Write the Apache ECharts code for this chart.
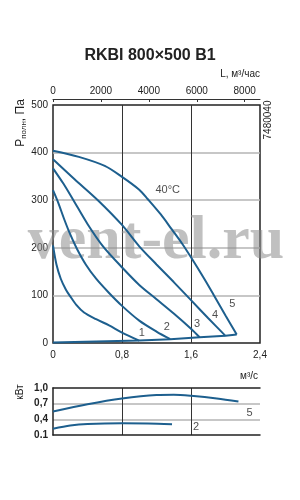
<!DOCTYPE html>
<html>
<head>
<meta charset="utf-8">
<script src="https://cdn.jsdelivr.net/npm/echarts@6/dist/echarts.min.js"></script>
<style>
html, body { margin: 0; padding: 0; background: #fff; }
#chart { width: 300px; height: 500px; }
</style>
</head>
<body>
<div id="chart"></div>
<script>
// pressure curves, x = m3/s, y = Pa
const curve1 = [[0, 205], [0.04, 165], [0.09, 135], [0.15, 112], [0.2, 98], [0.27, 80], [0.36, 64], [0.5, 50], [0.65, 37], [0.8, 22], [1.0, 5]];
const curve2 = [[0, 321], [0.06, 295], [0.13, 260], [0.2, 228], [0.28, 197], [0.38, 165], [0.5, 135], [0.65, 105], [0.8, 78], [1.0, 47], [1.2, 24], [1.36, 8]];
const curve3 = [[0, 367], [0.12, 335], [0.23, 302], [0.4, 250], [0.58, 203], [0.81, 157], [1.0, 122], [1.2, 92], [1.4, 62], [1.6, 30], [1.7, 12]];
const curve4 = [[0, 386], [0.25, 344], [0.52, 300], [0.8, 248], [1.0, 203], [1.2, 165], [1.4, 128], [1.6, 90], [1.8, 52], [2.0, 15]];
const curve5 = [[0, 404], [0.3, 391], [0.6, 372], [0.8, 349], [1.0, 322], [1.1, 302], [1.25, 270], [1.38, 238], [1.5, 208], [1.6, 180], [1.75, 136], [1.86, 102], [2.0, 58], [2.13, 18]];
const baseLine = [[0, 1], [1.0, 5], [1.36, 8], [1.7, 12], [2.0, 15], [2.13, 18]];

// power curves, kW
const power5 = [[0, 0.55], [0.4, 0.69], [0.8, 0.8], [1.2, 0.865], [1.4, 0.87], [1.6, 0.85], [1.9, 0.8], [2.15, 0.74]];
const power2 = [[0, 0.22], [0.2, 0.28], [0.4, 0.31], [0.8, 0.325], [1.1, 0.32], [1.38, 0.305]];

const curveLabels = [['1', 1.03, 21], ['2', 1.32, 34], ['3', 1.67, 40], ['4', 1.88, 59], ['5', 2.08, 82], ['40°C', 1.33, 321]];
const powerLabels = [['5', 2.28, 0.52], ['2', 1.66, 0.25]];
const powerTicks = ['0.1', '0,4', '0,7', '1,0'];
const powerMin = 0.1;

const blue = '#1d5f8e';
const dark = '#222';
const font = 'Liberation Sans';

const chart = echarts.init(document.getElementById('chart'), null, { renderer: 'canvas' });

function curve(data) {
    return {
        type: 'line', data: data, xAxisIndex: 0, yAxisIndex: 0,
        smooth: 0.3, symbol: 'none', silent: true,
        lineStyle: { color: blue, width: 2 }, z: 3
    };
}
function powerCurve(data) {
    return {
        type: 'line', data: data.map(p => [p[0], p[1] - powerMin]), xAxisIndex: 2, yAxisIndex: 1,
        smooth: 0.3, symbol: 'none', silent: true,
        lineStyle: { color: blue, width: 2 }, z: 3
    };
}
function labels(list, xi, yi, shift) {
    return {
        type: 'scatter', xAxisIndex: xi, yAxisIndex: yi, symbolSize: 0, silent: true,
        data: list.map(l => ({ value: [l[1], l[2] - shift], name: l[0] })),
        label: { show: true, position: 'inside', formatter: '{b}', color: dark, fontSize: 11, fontFamily: font }
    };
}

const option = {
    backgroundColor: '#fff',
    animation: false,
    grid: [
        { left: 53, top: 105, width: 207, height: 238, show: true, borderColor: dark, borderWidth: 1.5 },
        { left: 53, top: 388, width: 207, height: 47 }
    ],
    xAxis: [
        {
            gridIndex: 0, type: 'value', min: 0, max: 2.4, interval: 0.8,
            axisLine: { show: false }, axisTick: { show: false },
            axisLabel: { margin: 7, fontSize: 10, color: dark, fontFamily: font,
                formatter: v => v === 0 ? '0' : v.toFixed(1).replace('.', ',') },
            splitLine: { show: true, showMinLine: false, showMaxLine: false, lineStyle: { color: '#333', width: 1 } }
        },
        {
            gridIndex: 0, type: 'value', position: 'top', offset: 6, min: 0, max: 8640, interval: 2000,
            axisLine: { show: true, lineStyle: { color: '#333', width: 1 } },
            axisTick: { show: true, inside: true, length: 3, lineStyle: { color: '#333' } },
            axisLabel: { margin: 3, fontSize: 10, color: dark, fontFamily: font, showMaxLabel: false,
                formatter: v => String(v) },
            splitLine: { show: false }
        },
        {
            gridIndex: 1, type: 'value', min: 0, max: 2.4, interval: 0.8,
            axisLine: { show: true, lineStyle: { color: dark, width: 1.5 } },
            axisTick: { show: false }, axisLabel: { show: false },
            splitLine: { show: true, showMinLine: false, showMaxLine: false, lineStyle: { color: '#333', width: 1 } }
        },
        {
            gridIndex: 1, type: 'value', position: 'top', min: 0, max: 2.4,
            axisLine: { show: true, lineStyle: { color: dark, width: 1.5 } },
            axisTick: { show: false }, axisLabel: { show: false }, splitLine: { show: false }
        }
    ],
    yAxis: [
        {
            gridIndex: 0, type: 'value', min: 0, max: 500, interval: 100,
            axisLine: { show: false }, axisTick: { show: false },
            axisLabel: { margin: 5, fontSize: 10, color: dark, fontFamily: font },
            splitLine: { show: true, showMinLine: false, showMaxLine: false, lineStyle: { color: '#b4b4b4', width: 1.5 } }
        },
        {
            gridIndex: 1, type: 'value', min: 0, max: 0.9, interval: 0.3,
            axisLine: { show: true, lineStyle: { color: dark, width: 1.5 } }, axisTick: { show: false },
            axisLabel: { margin: 5, fontSize: 10, color: dark, fontFamily: font, fontWeight: 'bold',
                formatter: v => powerTicks[Math.round(v / 0.3)] },
            splitLine: { show: true, showMinLine: false, showMaxLine: false, lineStyle: { color: '#b4b4b4', width: 1.5 } }
        }
    ],
    graphic: [
        { type: 'text', left: 'center', top: 48, style: { text: 'RKBI 800×500 B1', font: 'bold 16px ' + font, fill: dark } },
        { type: 'text', right: 40, top: 69, style: { text: 'L, м³/час', font: '10px ' + font, fill: dark } },
        { type: 'text', right: 42, top: 371, style: { text: 'м³/с', font: '10px ' + font, fill: dark } },
        {
            type: 'text', x: 21, y: 123, rotation: Math.PI / 2, z: 10,
            style: {
                text: '{a|P}{b|полн}{a|, Па}', align: 'center', verticalAlign: 'middle',
                rich: { a: { fontSize: 12, fontFamily: font, fill: dark, lineHeight: 14 },
                        b: { fontSize: 8, fontFamily: font, fill: dark, verticalAlign: 'bottom', lineHeight: 14 } }
            }
        },
        { type: 'text', x: 20, y: 392, rotation: Math.PI / 2, style: { text: 'кВт', font: '10px ' + font, fill: dark, align: 'center', verticalAlign: 'middle' } },
        { type: 'text', x: 268, y: 120, rotation: Math.PI / 2, style: { text: '7480040', font: '10px ' + font, fill: dark, align: 'center', verticalAlign: 'middle' } },
        { type: 'text', x: 156, y: 242, z: 1, style: { text: 'vent-el.ru', font: 'bold 62px "Liberation Serif"', fill: 'rgba(140,140,140,0.55)', align: 'center', verticalAlign: 'middle' } }
    ],
    series: [
        curve(curve1), curve(curve2), curve(curve3), curve(curve4), curve(curve5),
        Object.assign(curve(baseLine), { smooth: false }),
        powerCurve(power5), powerCurve(power2),
        labels(curveLabels, 0, 0, 0),
        labels(powerLabels, 2, 1, powerMin)
    ]
};

chart.setOption(option);
</script>
</body>
</html>
